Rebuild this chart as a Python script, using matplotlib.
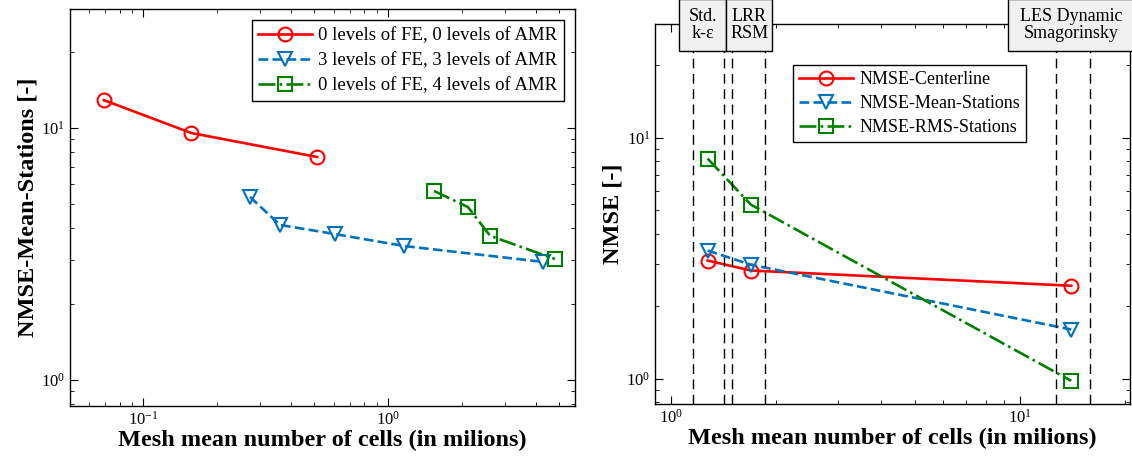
import matplotlib
matplotlib.use("Agg")
import matplotlib.pyplot as plt
from matplotlib.patches import Rectangle
import matplotlib.transforms as mtransforms

plt.rcParams['font.family'] = ['Liberation Serif', 'DejaVu Serif']
plt.rcParams['mathtext.fontset'] = 'custom'
plt.rcParams['mathtext.rm'] = 'Liberation Serif'
plt.rcParams['mathtext.it'] = 'Liberation Serif:italic'

# left panel: mesh refinement study
fe0_amr0_x = [0.069, 0.157, 0.513]
fe0_amr0_y = [12.9, 9.55, 7.67]
fe3_amr3_x = [0.273, 0.362, 0.608, 1.16, 4.29]
fe3_amr3_y = [5.32, 4.12, 3.79, 3.40, 2.94]
fe0_amr4_x = [1.54, 2.12, 2.61, 4.8]
fe0_amr4_y = [5.62, 4.85, 3.73, 3.02]
left_labels = ['0 levels of FE, 0 levels of AMR',
               '3 levels of FE, 3 levels of AMR',
               '0 levels of FE, 4 levels of AMR']

# right panel: turbulence models
model_x = [1.27, 1.69, 14.0]
nmse_centerline = [3.09, 2.81, 2.43]
nmse_mean = [3.40, 2.97, 1.60]
nmse_rms = [8.18, 5.27, 0.98]
right_labels = ['NMSE-Centerline', 'NMSE-Mean-Stations', 'NMSE-RMS-Stations']
model_names = ['Std.\nk-ε', 'LRR\nRSM', 'LES Dynamic\nSmagorinsky']
model_ranges = [(1.155, 1.418), (1.49, 1.856), (12.65, 15.85)]
box_ranges = [(1.054, 1.438), (1.438, 1.946), (9.24, 22.0)]

RED = '#ff0000'
BLUE = '#0072bd'
GREEN = '#008000'

fig = plt.figure(figsize=(11.32, 4.61), dpi=100)
ax1 = fig.add_axes([0.062, 0.12, 0.446, 0.86])
ax2 = fig.add_axes([0.579, 0.124, 0.419, 0.825])

mk = dict(markersize=10, markerfacecolor='none', markeredgewidth=1.5, linewidth=1.9)

ax1.plot(fe0_amr0_x, fe0_amr0_y, '-o', color=RED, label=left_labels[0], **mk)
ax1.plot(fe3_amr3_x, fe3_amr3_y, '--v', color=BLUE, label=left_labels[1], **mk)
ax1.plot(fe0_amr4_x, fe0_amr4_y, '-.s', color=GREEN, label=left_labels[2], **mk)
ax1.set_xscale('log')
ax1.set_yscale('log')
ax1.set_xlim(0.0503, 5.8)
ax1.set_ylim(0.79, 29.6)
ax1.set_xlabel('Mesh mean number of cells (in milions)', fontsize=17.5, fontweight='bold', labelpad=1)
ax1.set_ylabel('NMSE-Mean-Stations [-]', fontsize=17.5, fontweight='bold', labelpad=2)
leg1 = ax1.legend(loc='upper right', fontsize=13.5, fancybox=False, edgecolor='black',
                  framealpha=1, handlelength=2.9, borderaxespad=0.6, labelspacing=0.42,
                  borderpad=0.35, handletextpad=0.3)
leg1.get_frame().set_linewidth(1.0)

ax2.plot(model_x, nmse_centerline, '-o', color=RED, label=right_labels[0], **mk)
ax2.plot(model_x, nmse_mean, '--v', color=BLUE, label=right_labels[1], **mk)
ax2.plot(model_x, nmse_rms, '-.s', color=GREEN, label=right_labels[2], **mk)
ax2.set_xscale('log')
ax2.set_yscale('log')
ax2.set_xlim(0.9, 20.6)
ax2.set_ylim(0.787, 29.7)
ax2.set_xlabel('Mesh mean number of cells (in milions)', fontsize=17.5, fontweight='bold', labelpad=1)
ax2.set_ylabel('NMSE [-]', fontsize=17.5, fontweight='bold', labelpad=2)

# model region markers
trans = mtransforms.blended_transform_factory(ax2.transData, ax2.transAxes)
for lo, hi in model_ranges:
    for xv in (lo, hi):
        ax2.plot([xv, xv], [0, 0.927], transform=trans, color='black',
                 linestyle=(0, (7, 4)), linewidth=1.0)
for (lo, hi), name in zip(box_ranges, model_names):
    ax2.add_patch(Rectangle((lo, 0.927), hi - lo, 0.137, transform=trans,
                            facecolor='#f0f0f0', edgecolor='black', linewidth=1.0,
                            clip_on=False, zorder=5))
    ax2.text((lo * hi) ** 0.5 if hi < 20 else 14.0, 0.995, name, transform=trans,
             ha='center', va='center', fontsize=13, linespacing=1.0,
             zorder=6, clip_on=False)

leg2 = ax2.legend(loc='upper left', bbox_to_anchor=(0.27, 0.915), fontsize=13,
                  fancybox=False, edgecolor='black', framealpha=1,
                  handlelength=3.0, labelspacing=0.38, borderpad=0.35,
                  handletextpad=0.35)
leg2.get_frame().set_linewidth(1.0)

for ax in (ax1, ax2):
    ax.tick_params(which='both', direction='in', top=True, right=True, labelsize=12)
    ax.tick_params(which='major', length=6)
    ax.tick_params(which='minor', length=3)
    for s in ax.spines.values():
        s.set_linewidth(1.0)

fig.savefig('out.png', dpi=100)
